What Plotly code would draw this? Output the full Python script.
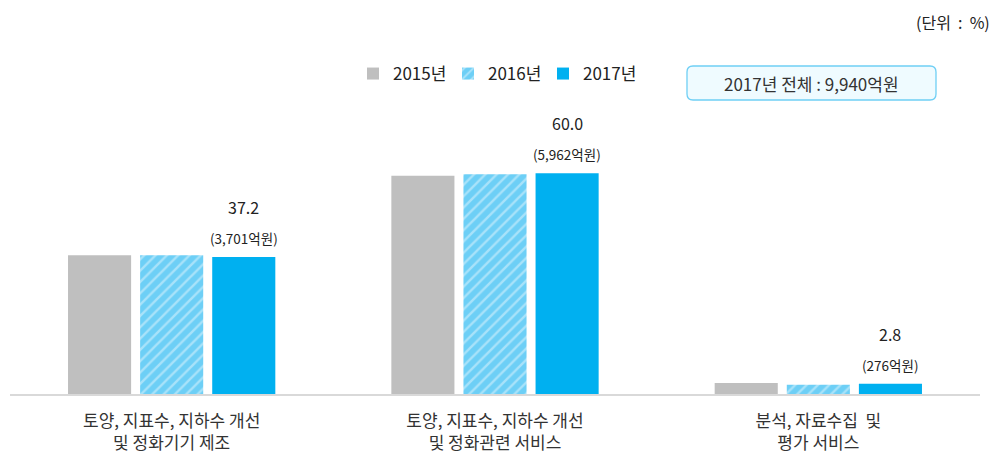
import plotly.graph_objects as go

categories = ["토양, 지표수, 지하수 개선<br>및 정화기기 제조",
              "토양, 지표수, 지하수 개선<br>및 정화관련 서비스",
              "분석, 자료수집  및<br>평가 서비스"]
years = ["2015년", "2016년", "2017년"]
v2015 = [37.7, 59.3, 3.0]
v2016 = [37.7, 59.7, 2.5]
v2017 = [37.2, 60.0, 2.8]
labels_2017 = ["37.2", "60.0", "2.8"]
amounts_2017 = ["(3,701억원)", "(5,962억원)", "(276억원)"]
unit_text = "(단위\u00a0\u00a0:\u00a0\u00a0%)"
total_text = "2017년 전체 : 9,940억원"

FONT = "Noto Sans CJK KR"
OFF = 8  # default page body margin
W, H = 999 - OFF, 454 - OFF
# plot area in window pixels: x 10..980, y 118..394
ML = 10 - OFF
MT = 118 - OFF
MR = W - (980 - OFF)
MB = H - (394 - OFF)
PW = W - ML - MR
PH = H - MT - MB

fig = go.Figure()
fig.add_trace(go.Bar(name=years[0], x=categories, y=v2015, marker=dict(color="#bfbfbf", line=dict(width=0))))
fig.add_trace(go.Bar(name=years[1], x=categories, y=v2016,
                     marker=dict(color="#6dcff6", line=dict(width=0),
                                 pattern=dict(shape="/", fgcolor="#e3f5fd", bgcolor="#6dcff6",
                                              size=8, solidity=0.3, fillmode="overlay"))))
fig.add_trace(go.Bar(name=years[2], x=categories, y=v2017, marker=dict(color="#00b0f0", line=dict(width=0))))

ann = []
for i, c in enumerate(categories):
    ann.append(dict(x=c, y=v2017[i], xref="x", yref="y", text=labels_2017[i], showarrow=False,
                    xshift=72, yshift=50, font=dict(family=FONT, size=16, color="#222222")))
    ann.append(dict(x=c, y=v2017[i], xref="x", yref="y", text=amounts_2017[i], showarrow=False,
                    xshift=72, yshift=19, font=dict(family=FONT, size=13.5, color="#222222")))


def px_x(p):
    return (p - OFF - ML) / PW


def px_y(p):
    return (MT + PH - (p - OFF)) / PH


ann.append(dict(x=px_x(991), y=px_y(9), xref="paper", yref="paper", text=unit_text, showarrow=False,
                xanchor="right", yanchor="top", borderpad=0,
                font=dict(family=FONT, size=16, color="#222222")))
ann.append(dict(x=px_x(811), y=px_y(83), xref="paper", yref="paper", text=total_text, showarrow=False,
                xanchor="center", yanchor="middle", font=dict(family=FONT, size=17, color="#333333")))

x0, x1 = px_x(687), px_x(936)
y0, y1 = px_y(100), px_y(66)
rx, ry = 6 / PW, 6 / PH
path = (f"M {x0+rx},{y0} L {x1-rx},{y0} Q {x1},{y0} {x1},{y0+ry} L {x1},{y1-ry} Q {x1},{y1} {x1-rx},{y1} "
        f"L {x0+rx},{y1} Q {x0},{y1} {x0},{y1-ry} L {x0},{y0+ry} Q {x0},{y0} {x0+rx},{y0} Z")

fig.update_layout(
    width=W, height=H,
    margin=dict(l=ML, r=MR, t=MT, b=MB, autoexpand=False),
    paper_bgcolor="white", plot_bgcolor="white",
    barmode="group", bargap=0.331, bargroupgap=0.125,
    font=dict(family=FONT, size=15, color="#333333"),
    showlegend=True,
    legend=dict(orientation="h", x=px_x(353), y=px_y(74), xanchor="left", yanchor="middle",
                font=dict(family=FONT, size=17, color="#222222"), itemwidth=30,
                entrywidth=50, entrywidthmode="pixels",
                traceorder="normal", bgcolor="rgba(0,0,0,0)"),
    annotations=ann,
    shapes=[dict(type="path", xref="paper", yref="paper", path=path,
                 line=dict(color="#6fcff5", width=1.3), fillcolor="#effbff", layer="below")],
    xaxis=dict(showline=True, linecolor="#d9d9d9", linewidth=1.5, ticks="", showgrid=False,
               ticklabelstandoff=11,
               tickfont=dict(family=FONT, size=17, color="#333333")),
    yaxis=dict(range=[0, 75], visible=False, showgrid=False),
)
for t in fig.data:
    t.cliponaxis = False

fig.write_html("out.html")
